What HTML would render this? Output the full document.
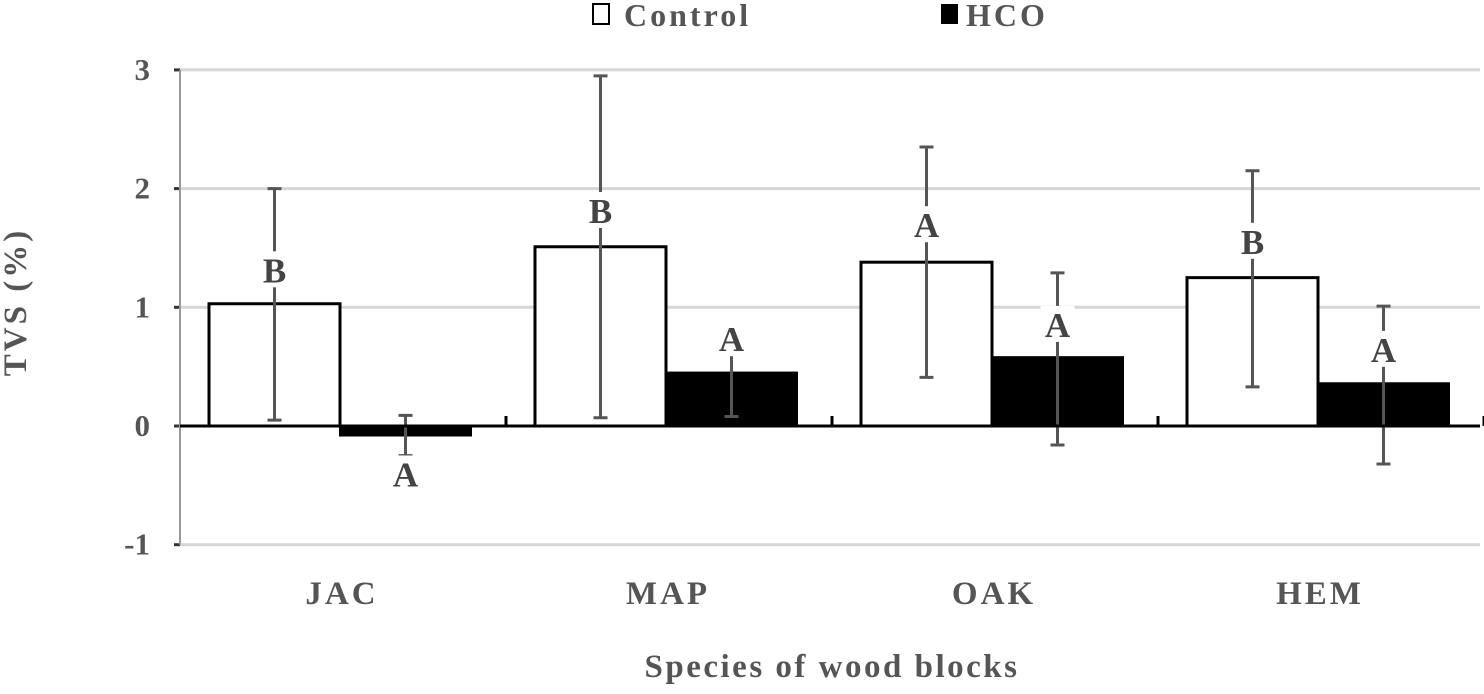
<!DOCTYPE html>
<html><head><meta charset="utf-8"><style>
body{margin:0;background:#fff;}
svg text{font-family:"Liberation Serif",serif;font-weight:bold;}
</style></head><body>
<svg id="chart" width="1484" height="689">
<g id="grid"></g><g id="bars"></g><g id="errs"></g><g id="labels"></g><g id="axes"></g>
<text x="26" y="302" font-size="33" fill="#555" letter-spacing="3" text-anchor="middle" transform="rotate(-90 26 302)">TVS (%)</text>
<text x="832" y="677" font-size="33" fill="#555" letter-spacing="2.5" text-anchor="middle">Species of wood blocks</text>
<g>
<rect x="593" y="4" width="16" height="20" fill="#fff" stroke="#000" stroke-width="2"/>
<text x="624" y="26" font-size="32" fill="#555" letter-spacing="3">Control</text>
<rect x="941" y="4" width="17" height="20" fill="#000"/>
<text x="966" y="26" font-size="32" fill="#555" letter-spacing="3">HCO</text>
</g>
</svg>
<script>
const categories=["JAC","MAP","OAK","HEM"];
const controlVals=[1.03,1.51,1.38,1.25];
const controlLow=[0.05,0.07,0.41,0.33];
const controlHigh=[2.0,2.95,2.35,2.15];
const hcoVals=[-0.08,0.45,0.58,0.36];
const hcoLow=[-0.25,0.08,-0.16,-0.32];
const hcoHigh=[0.09,0.82,1.29,1.01];
const controlLetters=["B","B","A","B"];
const hcoLetters=["A","A","A","A"];
const controlLetterY=[1.32,1.82,1.7,1.56];
const hcoLetterY=[-0.4,0.74,0.86,0.65];
const yTicks=[-1,0,1,2,3];
const NS="http://www.w3.org/2000/svg";
const x0=180,catW=326,y0=426,unit=118.7;
function y(v){return y0-v*unit;}
function cx(i){return x0-3+catW*(i+0.5);}
function mk(tag,attrs,parent){const e=document.createElementNS(NS,tag);for(const k in attrs)e.setAttribute(k,attrs[k]);document.getElementById(parent).appendChild(e);return e;}
yTicks.forEach(t=>{
 if(t!==0){const g=mk('line',{x1:x0,x2:1480,y1:y(t),y2:y(t),stroke:'#d6d6d6','stroke-width':3},'grid');
 
 }
 const tl=mk('text',{x:150,y:y(t)+10,'font-size':31,fill:'#555','text-anchor':'end'},'axes');tl.textContent=t;
 
 
 mk('line',{x1:x0-6,x2:x0,y1:y(t),y2:y(t),stroke:'#333','stroke-width':3},'axes');
});
const ax=mk('line',{x1:x0,x2:x0,y1:y(3),y2:y(-1),stroke:'#999','stroke-width':2},'axes');


const bw=131;
categories.forEach((c,i)=>{
 const L=cx(i)-bw;
 const cv=controlVals[i];
 const r1=mk('rect',{x:L,y:Math.min(y(cv),y0),width:bw,height:Math.abs(y(cv)-y0),fill:'#fff',stroke:'#000','stroke-width':3},'bars');
 
 
 const hv=hcoVals[i];
 const r2=mk('rect',{x:cx(i),y:Math.min(y(hv),y0),width:bw,height:Math.abs(y(hv)-y0),fill:'#000',stroke:'#000','stroke-width':2},'bars');
 
 
 [[L+bw/2,controlLow[i],controlHigh[i],'control'],[cx(i)+bw/2,hcoLow[i],hcoHigh[i],'hco']].forEach(([ex,lo,hi,s])=>{
  const e=mk('path',{d:`M${ex},${y(lo)}V${y(hi)}M${ex-7},${y(lo)}H${ex+7}M${ex-7},${y(hi)}H${ex+7}`,stroke:'#555','stroke-width':3,fill:'none'},'errs');
  
  
 });
 [[L+bw/2,controlLetterY[i],controlLetters[i]],[cx(i)+bw/2,hcoLetterY[i],hcoLetters[i]]].forEach(([lx,ly,t])=>{
  mk('rect',{x:lx-17,y:y(ly)-18,width:34,height:36,fill:'#fff'},'labels');
  const tx=mk('text',{x:lx,y:y(ly)+13,'font-size':35,fill:'#444','text-anchor':'middle'},'labels');tx.textContent=t;
  
  
 });
 const xl=mk('text',{x:cx(i)+2,y:604,'font-size':33,fill:'#555','letter-spacing':3,'text-anchor':'middle'},'axes');xl.textContent=c;
 
 
 mk('line',{x1:x0+catW*(i+1),x2:x0+catW*(i+1),y1:y0,y2:y0-10,stroke:'#000','stroke-width':3},'axes');
});
const za=mk('line',{x1:x0,x2:1480,y1:y0,y2:y0,stroke:'#000','stroke-width':3},'axes');


</script>
</body></html>
